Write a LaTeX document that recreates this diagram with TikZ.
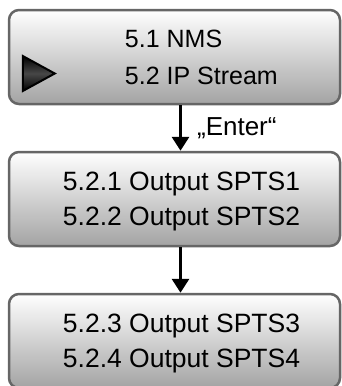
\documentclass[tikz,border=0pt]{standalone}
\usepackage{fontspec}
\setmainfont{Liberation Sans}
\usetikzlibrary{arrows.meta}

\tikzset{
  menubox/.style={draw=black!60, line width=2.5pt, rounded corners=10pt,
    top color=white, bottom color=black!36, minimum width=331pt, minimum height=94pt},
  menutext/.style={font=\fontsize{26.5}{35}\selectfont, align=center, inner sep=0pt},
  cursor/.style={draw=black, line width=2pt, top color=black, bottom color=black, middle color=black!72},
  arr/.style={line width=3.2pt, -{Triangle[width=17pt,length=14pt]}},
}

\begin{document}
\begin{tikzpicture}[node distance=142pt]
  \useasboundingbox (0,0) rectangle (342pt,-386pt);
  \node[menubox] (1) at (174.5pt,-57pt) {};
  \node[menubox, below of=1] (2) {};
  \node[menubox, below of=2] (3) {};

  \node[menutext, font=\fontsize{25}{37}\selectfont, align=left, anchor=west] (1t)
    at ([xshift=117pt]1.west) {5.1 NMS\\5.2 IP Stream};
  \node[menutext] (2t) at ([xshift=7pt,yshift=-2.7pt]2.center) {5.2.1 Output SPTS1\\5.2.2 Output SPTS2};
  \node[menutext] (3t) at ([xshift=7pt,yshift=-2.7pt]3.center) {5.2.3 Output SPTS3\\5.2.4 Output SPTS4};

  % cursor
  \draw[cursor, shift={(1.west)}] (15pt,1pt) -- (15pt,-34pt) -- (47pt,-16.5pt) -- cycle;

  \draw[arr] ([xshift=6pt]1.south) -- node[right, xshift=15pt, inner sep=0pt, font=\fontsize{26}{30}\selectfont] (enter) {„Enter“} ([xshift=6pt]2.north);
  \draw[arr] ([xshift=6pt]2.south) -- ([xshift=6pt]3.north);
\end{tikzpicture}
\end{document}
